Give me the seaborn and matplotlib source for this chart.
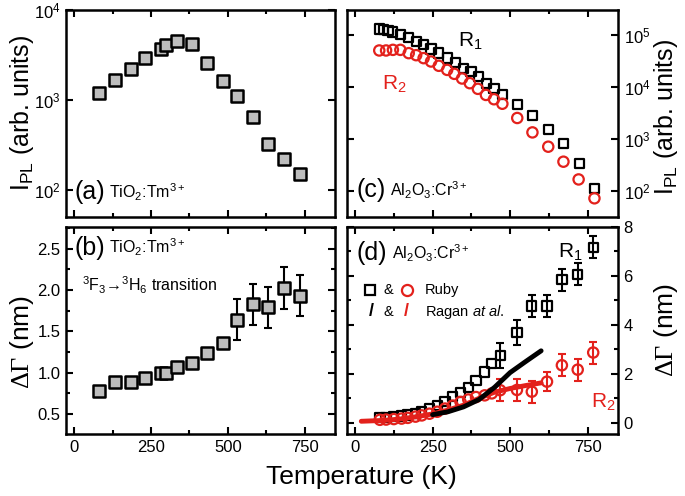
import numpy as np
import matplotlib
matplotlib.use("Agg")
import matplotlib.pyplot as plt
from matplotlib import ticker
import seaborn as sns

# (a) PL intensity, TiO2:Tm3+
temp_tm = [82, 133, 184, 232, 282, 298, 335, 383, 432, 483, 531, 582, 631, 681, 733]
ipl_tm = [1190, 1660, 2210, 2930, 3720, 4070, 4530, 4230, 2580, 1620, 1110, 650, 325, 223, 149]

# (b) linewidth, TiO2:Tm3+
dg_tm = [0.78, 0.885, 0.885, 0.935, 1.0, 1.0, 1.068, 1.12, 1.237, 1.357, 1.64, 1.825, 1.79, 2.025, 1.93]
dg_tm_err = [0, 0, 0, 0, 0, 0, 0, 0, 0, 0, 0.25, 0.25, 0.25, 0.25, 0.25]

# (c) PL intensity, Al2O3:Cr3+
temp_r1_c = [78, 92, 106, 121, 146, 173, 197, 221, 245, 270, 297, 324, 349, 374, 399, 424,
             448, 475, 523, 572, 623, 672, 723, 772]
ipl_r1 = [128600, 124800, 121300, 112600, 100000, 88800, 74400, 64100, 52900, 44300, 35500,
          29300, 22700, 19600, 15700, 11700, 9360, 7160, 4590, 2820, 1490, 813, 334, 110]
temp_r2_c = [78, 100, 122, 146, 173, 197, 221, 245, 270, 297, 320, 345, 370, 396, 422, 448,
             475, 523, 572, 623, 672, 721, 772]
ipl_r2 = [49900, 49900, 51300, 51300, 44300, 40500, 35500, 30600, 25300, 21100, 17700, 14400,
          11700, 9100, 6950, 5740, 4700, 2500, 1320, 700, 360, 164, 71]

# (d) linewidth, ruby
temp_d = [80, 100, 125, 150, 170, 195, 215, 240, 265, 290, 315, 340, 365, 390, 418, 441,
          468, 522, 570, 619, 667, 718, 768]
dg_r1 = [0.22, 0.22, 0.25, 0.28, 0.32, 0.39, 0.46, 0.56, 0.70, 0.88, 1.06, 1.23, 1.44, 1.72,
         2.07, 2.42, 2.74, 3.68, 4.77, 4.77, 5.85, 6.06, 7.17]
dg_r1_err = [np.nan] * 16 + [0.5, 0.5, 0.45, 0.45, 0.45, 0.45, 0.45]
dg_r2 = [0.12, 0.13, 0.15, 0.17, 0.2, 0.25, 0.3, 0.37, 0.45, 0.58, 0.7, 0.85, 0.95, 1.05,
         1.12, 1.2, 1.33, 1.34, 1.27, 1.68, 2.35, 2.17, 2.87]
dg_r2_err = [np.nan] * 16 + [0.45, 0.45, 0.45, 0.4, 0.45, 0.45, 0.45]

# Ragan et al. curves
temp_ragan_r1 = [250, 300, 350, 400, 450, 500, 550, 600]
ragan_r1 = [0.33, 0.45, 0.65, 0.95, 1.45, 2.05, 2.5, 2.94]
temp_ragan_r2 = [20, 100, 150, 200, 250, 300, 350, 400, 450, 500, 550, 600]
ragan_r2 = [0.06, 0.1, 0.16, 0.25, 0.36, 0.52, 0.72, 1.0, 1.25, 1.4, 1.52, 1.63]

red = "#e3211c"
gray = "#bdbdbd"

sns.set_style("ticks")
plt.rcParams['font.family'] = ['Liberation Sans', 'DejaVu Sans']
plt.rcParams['mathtext.fontset'] = 'custom'
plt.rcParams['mathtext.rm'] = 'Liberation Sans'
plt.rcParams['mathtext.it'] = 'Liberation Sans:italic'
plt.rcParams['mathtext.sf'] = 'Liberation Serif'
plt.rcParams['axes.linewidth'] = 1.8
plt.rcParams['axes.edgecolor'] = 'black'
plt.rcParams['text.color'] = 'black'
plt.rcParams['axes.labelcolor'] = 'black'

fig = plt.figure(figsize=(6.85, 4.96), dpi=100)
ax_a = fig.add_axes([0.0964, 0.5625, 0.3927, 0.4173])
ax_b = fig.add_axes([0.0964, 0.125, 0.3927, 0.4173])
ax_c = fig.add_axes([0.5066, 0.5625, 0.3956, 0.4173])
ax_d = fig.add_axes([0.5066, 0.125, 0.3956, 0.4173])

for ax in [ax_a, ax_b, ax_c, ax_d]:
    ax.set_xlim(-26, 848)
    ax.xaxis.set_major_locator(ticker.MultipleLocator(250))
    ax.xaxis.set_minor_locator(ticker.MultipleLocator(125))
    ax.tick_params(which='both', direction='in', top=True, right=True, width=1.5,
                   labelsize=12, colors='black', pad=4)
    ax.tick_params(which='major', length=5)
    ax.tick_params(which='minor', length=3)

# (a)
sns.scatterplot(x=temp_tm, y=ipl_tm, marker='s', s=70, color=gray, edgecolor='black',
                linewidth=1.8, legend=False, ax=ax_a, zorder=3)
ax_a.set_yscale('log')
ax_a.set_ylim(50, 1e4)
ax_a.yaxis.set_minor_locator(ticker.NullLocator())
ax_a.tick_params(labelbottom=False)
ax_a.text(0.03, 0.12, '(a)', transform=ax_a.transAxes, fontsize=18, va='center')
ax_a.text(0.16, 0.12, 'TiO$_2$:Tm$^{3+}$', transform=ax_a.transAxes, fontsize=11.5, va='center')

# (b)
ax_b.errorbar(temp_tm, dg_tm, yerr=dg_tm_err, fmt='none', ecolor='black', elinewidth=1.5,
              capsize=3, capthick=1.5, zorder=2)
sns.scatterplot(x=temp_tm, y=dg_tm, marker='s', s=70, color=gray, edgecolor='black',
                linewidth=1.8, legend=False, ax=ax_b, zorder=3)
ax_b.set_ylim(0.26, 2.76)
ax_b.yaxis.set_major_locator(ticker.MultipleLocator(0.5))
ax_b.yaxis.set_minor_locator(ticker.MultipleLocator(0.25))
ax_b.yaxis.set_major_formatter(ticker.FormatStrFormatter('%.1f'))
ax_b.text(0.03, 0.9, '(b)', transform=ax_b.transAxes, fontsize=18, va='center')
ax_b.text(0.16, 0.9, 'TiO$_2$:Tm$^{3+}$', transform=ax_b.transAxes, fontsize=11.5, va='center')
ax_b.text(0.06, 0.72, '$^3$F$_3$→$^3$H$_6$ transition', transform=ax_b.transAxes,
          fontsize=11.5, va='center')

# (c)
sns.scatterplot(x=temp_r1_c, y=ipl_r1, marker='s', s=45, facecolors='none', edgecolor='black',
                linewidth=1.6, legend=False, ax=ax_c, zorder=3)
sns.scatterplot(x=temp_r2_c, y=ipl_r2, marker='o', s=55, facecolors='none', edgecolor=red,
                linewidth=1.6, legend=False, ax=ax_c, zorder=3)
ax_c.set_yscale('log')
ax_c.set_ylim(31, 3e5)
ax_c.yaxis.set_minor_locator(ticker.NullLocator())
ax_c.tick_params(labelleft=False, labelright=True, labelbottom=False)
ax_c.text(0.035, 0.13, '(c)', transform=ax_c.transAxes, fontsize=18, va='center')
ax_c.text(0.16, 0.13, 'Al$_2$O$_3$:Cr$^{3+}$', transform=ax_c.transAxes, fontsize=11.5, va='center')
ax_c.text(0.41, 0.85, 'R$_1$', transform=ax_c.transAxes, fontsize=15, va='center')
ax_c.text(0.13, 0.64, 'R$_2$', transform=ax_c.transAxes, fontsize=15, va='center', color=red)

# (d)
ax_d.errorbar(temp_d, dg_r1, yerr=dg_r1_err, fmt='none', ecolor='black', elinewidth=1.5,
              capsize=3, capthick=1.5, zorder=2)
ax_d.errorbar(temp_d, dg_r2, yerr=dg_r2_err, fmt='none', ecolor=red, elinewidth=1.5,
              capsize=3, capthick=1.5, zorder=2)
sns.scatterplot(x=temp_d, y=dg_r1, marker='s', s=45, facecolors='none', edgecolor='black',
                linewidth=1.6, legend=False, ax=ax_d, zorder=3)
sns.scatterplot(x=temp_d, y=dg_r2, marker='o', s=55, facecolors='none', edgecolor=red,
                linewidth=1.6, legend=False, ax=ax_d, zorder=3)
sns.lineplot(x=temp_ragan_r2, y=ragan_r2, color=red, linewidth=3.5, ax=ax_d, zorder=4)
sns.lineplot(x=temp_ragan_r1, y=ragan_r1, color='black', linewidth=3.5, ax=ax_d, zorder=4)
ax_d.set_ylim(-0.46, 8.0)
ax_d.yaxis.set_major_locator(ticker.MultipleLocator(2))
ax_d.yaxis.set_minor_locator(ticker.MultipleLocator(1))
ax_d.tick_params(labelleft=False, labelright=True)
ax_d.text(0.035, 0.875, '(d)', transform=ax_d.transAxes, fontsize=18, va='center')
ax_d.text(0.165, 0.875, 'Al$_2$O$_3$:Cr$^{3+}$', transform=ax_d.transAxes, fontsize=11.5,
          va='center')
ax_d.text(0.78, 0.88, 'R$_1$', transform=ax_d.transAxes, fontsize=15, va='center')
ax_d.text(0.9, 0.155, 'R$_2$', transform=ax_d.transAxes, fontsize=15, va='center', color=red)

# legend of (d)
ax_d.plot([0.085], [0.696], marker='s', ms=7, mfc='none', mec='black', mew=1.6,
          transform=ax_d.transAxes)
ax_d.plot([0.22], [0.696], marker='o', ms=8, mfc='none', mec=red, mew=1.6,
          transform=ax_d.transAxes)
ax_d.text(0.151, 0.696, '&', transform=ax_d.transAxes, fontsize=10.5, va='center', ha='center')
ax_d.text(0.288, 0.696, 'Ruby', transform=ax_d.transAxes, fontsize=10.5, va='center')
ax_d.text(0.091, 0.59, '/', transform=ax_d.transAxes, fontsize=13, va='center', ha='center',
          fontweight='bold')
ax_d.text(0.151, 0.59, '&', transform=ax_d.transAxes, fontsize=10.5, va='center', ha='center')
ax_d.text(0.22, 0.59, '/', transform=ax_d.transAxes, fontsize=13, va='center', ha='center',
          fontweight='bold', color=red)
ax_d.text(0.288, 0.59, r'Ragan $\it{at\ al.}$', transform=ax_d.transAxes, fontsize=10.5,
          va='center')

for ax in [ax_a, ax_b, ax_c, ax_d]:
    ax.set_xlabel('')
    ax.set_ylabel('')

fig.text(0.528, 0.038, 'Temperature (K)', ha='center', va='center', fontsize=19)
fig.text(0.032, 0.772, 'I$_{\\rm PL}$ (arb. units)', rotation=90, ha='center', va='center',
         fontsize=18)
fig.text(0.032, 0.31, r'$\mathsf{\Delta\Gamma}$ (nm)', rotation=90, ha='center', va='center',
         fontsize=19)
fig.text(0.972, 0.764, 'I$_{\\rm PL}$ (arb. units)', rotation=90, ha='center', va='center',
         fontsize=18)
fig.text(0.972, 0.335, r'$\mathsf{\Delta\Gamma}$ (nm)', rotation=90, ha='center', va='center',
         fontsize=19)

fig.savefig("out.png", dpi=100)
